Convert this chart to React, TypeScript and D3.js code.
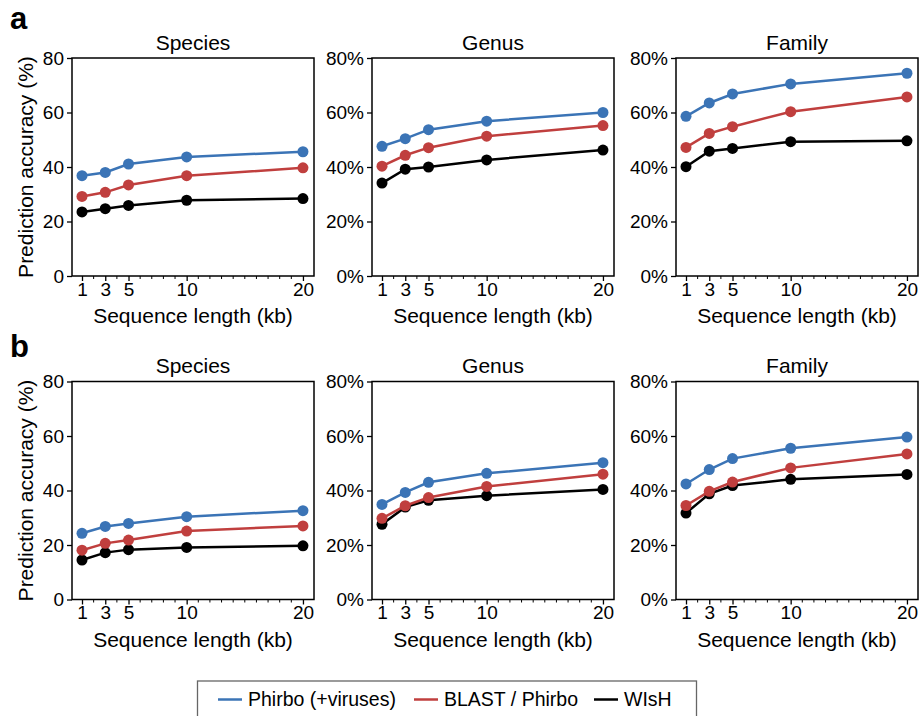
import React, { useEffect, useRef } from "react";
import * as d3 from "d3";

// sequence lengths (kb)
const lengths = [1, 3, 5, 10, 20];
const methods = ["Phirbo (+viruses)", "BLAST / Phirbo", "WIsH"];
const methodColors = ["#3b74b6", "#c03f3e", "#000000"];
const ranks = ["Species", "Genus", "Family"];
const panelLetters = ["a", "b"];

// panel a
const aSpeciesPhirbo = [36.8, 38.0, 41.1, 43.7, 45.6];
const aSpeciesBlast = [29.2, 30.7, 33.4, 36.8, 39.7];
const aSpeciesWish = [23.5, 24.7, 25.9, 27.8, 28.4];
const aGenusPhirbo = [47.6, 50.4, 53.7, 56.8, 60.0];
const aGenusBlast = [40.3, 44.3, 47.1, 51.3, 55.2];
const aGenusWish = [34.1, 39.2, 40.0, 42.6, 46.2];
const aFamilyPhirbo = [58.6, 63.5, 66.8, 70.5, 74.4];
const aFamilyBlast = [47.2, 52.3, 54.8, 60.3, 65.7];
const aFamilyWish = [40.1, 45.8, 46.8, 49.3, 49.6];

// panel b
const bSpeciesPhirbo = [24.3, 26.8, 27.9, 30.4, 32.6];
const bSpeciesBlast = [18.1, 20.6, 21.8, 25.1, 27.0];
const bSpeciesWish = [14.5, 17.2, 18.3, 19.1, 19.7];
const bGenusPhirbo = [34.9, 39.3, 43.0, 46.3, 50.2];
const bGenusBlast = [29.8, 34.4, 37.4, 41.5, 46.0];
const bGenusWish = [27.6, 33.9, 36.4, 38.1, 40.4];
const bFamilyPhirbo = [42.4, 47.7, 51.7, 55.5, 59.6];
const bFamilyBlast = [34.5, 39.7, 43.1, 48.3, 53.4];
const bFamilyWish = [31.7, 38.8, 41.8, 44.1, 45.9];

const yTicks = [0, 20, 40, 60, 80];

const panels = [
  [
    [aSpeciesPhirbo, aSpeciesBlast, aSpeciesWish],
    [aGenusPhirbo, aGenusBlast, aGenusWish],
    [aFamilyPhirbo, aFamilyBlast, aFamilyWish],
  ],
  [
    [bSpeciesPhirbo, bSpeciesBlast, bSpeciesWish],
    [bGenusPhirbo, bGenusBlast, bGenusWish],
    [bFamilyPhirbo, bFamilyBlast, bFamilyWish],
  ],
];

const W = 921;
const H = 716;
const FONT = "'Liberation Sans', Arial, Helvetica, sans-serif";

export default function App() {
  const ref = useRef<SVGSVGElement>(null);

  useEffect(() => {
    const svg = d3.select(ref.current);
    svg.selectAll("*").remove();

    const colLefts = [72, 372, 676];
    const rowTops = [58, 381.5];
    const plotW = 242;
    const plotH = 218;

    const x = d3.scaleLinear().domain([0.14, 20.95]).range([0, plotW]);
    const y = d3.scaleLinear().domain([0, 80]).range([plotH, 0]);
    const minor = d3.range(2, 20).filter((v) => !lengths.includes(v));

    const line = d3
      .line<number>()
      .x((d, i) => x(lengths[i]))
      .y((d) => y(d));

    panels.forEach((row, r) => {
      const top = rowTops[r];

      svg
        .append("text")
        .attr("x", 10)
        .attr("y", r === 0 ? 28.5 : 356.5)
        .attr("font-family", FONT)
        .attr("font-weight", "bold")
        .attr("font-size", 31)
        .text(panelLetters[r]);

      row.forEach((series, c) => {
        const g = svg
          .append("g")
          .attr("transform", `translate(${colLefts[c]},${top})`);

        // x axis
        const xa = g
          .append("g")
          .attr("transform", `translate(0,${plotH})`)
          .call(
            d3
              .axisBottom(x)
              .tickValues(lengths)
              .tickSize(5)
              .tickSizeOuter(0)
              .tickPadding(1.5)
          );
        xa.selectAll(".minor")
          .data(minor)
          .enter()
          .append("line")
          .attr("x1", (d) => x(d))
          .attr("x2", (d) => x(d))
          .attr("y1", 0)
          .attr("y2", 3)
          .attr("stroke", "#000")
          .attr("stroke-width", 1);

        // y axis
        const ya = g.append("g").call(
          d3
            .axisLeft(y)
            .tickValues(yTicks)
            .tickSize(5)
            .tickSizeOuter(0)
            .tickPadding(3)
            .tickFormat((d) => (c === 0 ? `${d}` : `${d}%`))
        );

        [xa, ya].forEach((a) => {
          a.attr("font-family", FONT).attr("font-size", 19);
          a.selectAll("text").attr("fill", "#000");
          a.selectAll(".tick line").attr("stroke", "#000").attr("stroke-width", 1.3);
          a.select(".domain").remove();
        });

        // frame
        g.append("rect")
          .attr("width", plotW)
          .attr("height", plotH)
          .attr("fill", "none")
          .attr("stroke", "#000")
          .attr("stroke-width", 1.5);

        // series: draw WIsH first, Phirbo last
        [2, 1, 0].forEach((m) => {
          g.append("path")
            .attr("d", line(series[m]))
            .attr("fill", "none")
            .attr("stroke", methodColors[m])
            .attr("stroke-width", 2.5);
          g.selectAll(null)
            .data(series[m])
            .enter()
            .append("circle")
            .attr("cx", (d, i) => x(lengths[i]))
            .attr("cy", (d) => y(d))
            .attr("r", 5.5)
            .attr("fill", methodColors[m]);
        });

        g.append("text")
          .attr("x", plotW / 2)
          .attr("y", -8.5)
          .attr("text-anchor", "middle")
          .attr("font-family", FONT)
          .attr("font-size", 21)
          .text(ranks[c]);

        g.append("text")
          .attr("x", plotW / 2)
          .attr("y", plotH + 47)
          .attr("text-anchor", "middle")
          .attr("font-family", FONT)
          .attr("font-size", 21)
          .text("Sequence length (kb)");

        if (c === 0) {
          g.append("text")
            .attr("transform", `translate(${33 - colLefts[0]},${plotH / 2}) rotate(-90)`)
            .attr("text-anchor", "middle")
            .attr("font-family", FONT)
            .attr("font-size", 21)
            .text("Prediction accuracy (%)");
        }
      });
    });

    // legend
    const lg = svg.append("g");
    lg.append("rect")
      .attr("x", 197.5)
      .attr("y", 681)
      .attr("width", 499)
      .attr("height", 40)
      .attr("fill", "#fff")
      .attr("stroke", "#666")
      .attr("stroke-width", 1.3);
    const legendX = [218, 414, 594];
    methods.forEach((m, i) => {
      lg.append("line")
        .attr("x1", legendX[i])
        .attr("x2", legendX[i] + 24)
        .attr("y1", 699.5)
        .attr("y2", 699.5)
        .attr("stroke", methodColors[i])
        .attr("stroke-width", 2.5);
      lg.append("text")
        .attr("x", legendX[i] + 30)
        .attr("y", 705.5)
        .attr("font-family", FONT)
        .attr("font-size", 19.5)
        .text(m);
    });
  }, []);

  return (
    <div style={{ position: "absolute", left: 0, top: 0 }}>
      <svg ref={ref} width={W} height={H} style={{ display: "block", background: "#fff" }} />
    </div>
  );
}
